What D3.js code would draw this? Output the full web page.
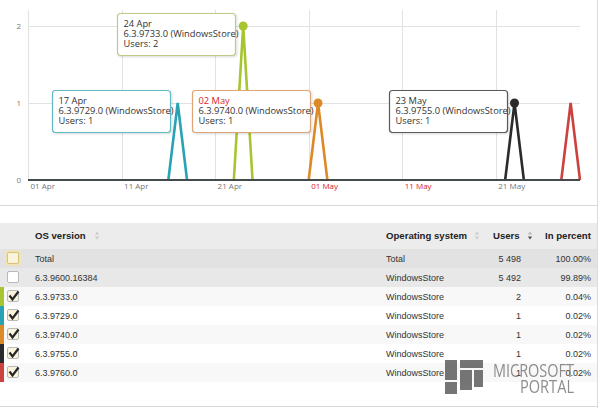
<!DOCTYPE html>
<html><head><meta charset="utf-8">
<script src="https://cdn.jsdelivr.net/npm/d3@7"></script>
<style>
html,body{margin:0;padding:0;background:#fff;}
svg{display:block;}
</style></head>
<body>
<svg id="chart" width="599" height="408"></svg>
<script>
// ---------- DATA ----------
const seriesNames  = ["6.3.9733.0","6.3.9729.0","6.3.9740.0","6.3.9755.0","6.3.9760.0"];
const seriesColors = ["#a6c530","#2ba2b4","#dc8a28","#2b2b2b","#cb423f"];
const seriesPoints = [
  [["2014-04-23",0],["2014-04-24",2],["2014-04-25",0]],
  [["2014-04-16",0],["2014-04-17",1],["2014-04-18",0]],
  [["2014-05-01",0],["2014-05-02",1],["2014-05-03",0]],
  [["2014-05-22",0],["2014-05-23",1],["2014-05-24",0]],
  [["2014-05-28",0],["2014-05-29",1],["2014-05-30",0]]
];
const markerSeries = [0,2,3];
const tooltipSeries = [1,0,2,3];
const tooltipDates  = ["17 Apr","24 Apr","02 May","23 May"];
const tooltipUsers  = [1,2,1,1];
const tooltipBorders = ["#62b9c8","#bccb86","#dda57a","#5a5a5a"];
const holidayLabels = ["02 May","01 May","11 May"];

const xDomain = ["2014-04-01","2014-05-30"];
const xTickDates  = ["2014-04-01","2014-04-11","2014-04-21","2014-05-01","2014-05-11","2014-05-21"];
const xTickLabels = ["01 Apr","11 Apr","21 Apr","01 May","11 May","21 May"];
const yTicks = [0,1,2];

const tableHeaders = ["OS version","Operating system","Users","In percent"];
const tableOS      = ["Total","6.3.9600.16384","6.3.9733.0","6.3.9729.0","6.3.9740.0","6.3.9755.0","6.3.9760.0"];
const tableSystem  = ["Total","WindowsStore","WindowsStore","WindowsStore","WindowsStore","WindowsStore","WindowsStore"];
const tableUsers   = ["5 498","5 492","2","1","1","1","1"];
const tablePercent = ["100.00%","99.89%","0.04%","0.02%","0.02%","0.02%","0.02%"];
const tableColors  = [null,null,"#a6c530","#2ba2b4","#dc8a28","#2b2b2b","#cb423f"];
const tableChecked = [false,false,true,true,true,true,true];

// ---------- SETUP ----------
const svg = d3.select("#chart");
const parse = d3.timeParse("%Y-%m-%d");
const FONT = "'Open Sans', 'Noto Sans', sans-serif";
const TFONT = "'Liberation Sans', Arial, sans-serif";

const x = d3.scaleTime().domain(xDomain.map(parse)).range([28, 580]);
const y = d3.scaleLinear().domain([0, 2]).range([180, 26]);

// frame lines
svg.append("line").attr("x1",597.5).attr("x2",597.5).attr("y1",0).attr("y2",408).attr("stroke","#dcdcdc");
svg.append("line").attr("x1",0).attr("x2",597).attr("y1",205.5).attr("y2",205.5).attr("stroke","#d8d8d8");
svg.append("line").attr("x1",0).attr("x2",597).attr("y1",406.5).attr("y2",406.5).attr("stroke","#d8d8d8");

// grid
const g = svg.append("g");
g.selectAll(".vg").data(xTickDates).join("line")
  .attr("x1",d=>Math.round(x(parse(d)))+0.5).attr("x2",d=>Math.round(x(parse(d)))+0.5)
  .attr("y1",10).attr("y2",180).attr("stroke","#e2e2e2");
g.selectAll(".hg").data(yTicks.filter(d=>d>0)).join("line")
  .attr("x1",28).attr("x2",580).attr("y1",d=>Math.round(y(d))+0.5).attr("y2",d=>Math.round(y(d))+0.5)
  .attr("stroke","#e2e2e2");

// y labels
g.selectAll(".yl").data(yTicks).join("text")
  .attr("x",21).attr("y",d=>y(d)+3).attr("text-anchor","end")
  .attr("font-family",FONT).attr("font-size",8).attr("fill","#777").text(d=>d);

// x axis
const xAxis = d3.axisBottom(x).tickValues(xTickDates.map(parse))
  .tickFormat((d,i)=>xTickLabels[i]).tickSize(0);
const xa = svg.append("g").attr("transform","translate(0,180)").call(xAxis);
xa.select(".domain").remove();
xa.selectAll("text").attr("text-anchor","start").attr("dx",2).attr("dy",0).attr("y",9)
  .attr("font-family",FONT).attr("font-size",8)
  .attr("fill",(d,i)=>holidayLabels.includes(xTickLabels[i])?"#d8262c":"#777");

// series
const line = d3.line().x(d=>x(parse(d[0]))).y(d=>y(d[1]));
svg.selectAll(".series").data(seriesPoints).join("path")
  .attr("d",line).attr("fill","none")
  .attr("stroke",(d,i)=>seriesColors[i]).attr("stroke-width",2.6).attr("stroke-linejoin","miter");

// baseline
svg.append("line").attr("x1",28).attr("x2",580).attr("y1",y(0)).attr("y2",y(0))
  .attr("stroke","#454a4c").attr("stroke-width",2);

// markers
svg.selectAll(".mk").data(markerSeries).join("circle")
  .attr("cx",i=>x(parse(seriesPoints[i][1][0]))).attr("cy",i=>y(seriesPoints[i][1][1]))
  .attr("r",4.5).attr("fill",i=>seriesColors[i]);

// tooltips
const defs = svg.append("defs");
const f = defs.append("filter").attr("id","sh").attr("x","-10%").attr("y","-10%").attr("width","130%").attr("height","140%");
f.append("feDropShadow").attr("dx",1).attr("dy",1).attr("stdDeviation",1).attr("flood-color","#000").attr("flood-opacity",0.15);

tooltipSeries.forEach((si,k)=>{
  const p = seriesPoints[si][1];
  const px = x(parse(p[0])), py = y(p[1]);
  const bw = 118, bh = 42;
  const bx = Math.round(px - 8 - bw) + 0.5, by = Math.round(py - 13) + 0.5;
  const tg = svg.append("g");
  tg.append("rect").attr("x",bx).attr("y",by).attr("width",bw).attr("height",bh)
    .attr("rx",3).attr("fill","#fff").attr("stroke",tooltipBorders[k]).attr("stroke-width",1.2)
    .attr("filter","url(#sh)");
  const lines = [tooltipDates[k], seriesNames[si]+" (WindowsStore)", "Users: "+tooltipUsers[k]];
  tg.selectAll("text").data(lines).join("text")
    .attr("x",bx+6).attr("y",(d,j)=>by+13+j*10.3)
    .attr("font-family",FONT).attr("font-size",9.3)
    .attr("fill",(d,j)=>j===0&&holidayLabels.includes(d)?"#d8262c":"#333")
    .text(d=>d);
});

// ---------- TABLE ----------
const tb = svg.append("g");
const headerTop = 223, rowTop = 249, rowH = 19;
tb.append("rect").attr("x",0).attr("y",headerTop).attr("width",597).attr("height",rowTop-headerTop).attr("fill","#ececec");
const rowFills = ["#e2e2e2","#e8e8e8","#f8f8f8","#ffffff","#f8f8f8","#ffffff","#f8f8f8"];
tb.selectAll(".rowbg").data(tableOS).join("rect")
  .attr("x",0).attr("y",(d,i)=>rowTop+i*rowH).attr("width",597).attr("height",rowH)
  .attr("fill",(d,i)=>rowFills[i]);

// header texts
const headerX = [35,386,493,545];
tb.selectAll(".hd").data(tableHeaders).join("text")
  .attr("x",(d,i)=>headerX[i]).attr("y",239)
  .attr("font-family",TFONT).attr("font-size",9.6).attr("font-weight","bold").attr("fill","#222")
  .text(d=>d);
// sort icons
const sortX = [97,477,530];
const sortDark = [false,false,true];
sortX.forEach((sx,i)=>{
  tb.append("path").attr("d",`M${sx-2.2},${234.5}L${sx},${231.5}L${sx+2.2},${234.5}Z`).attr("fill",sortDark[i]?"#bbb":"#ccc");
  tb.append("path").attr("d",`M${sx-2.2},${236.5}L${sx},${239.5}L${sx+2.2},${236.5}Z`).attr("fill",sortDark[i]?"#555":"#ccc");
});

// rows
tb.selectAll(".os").data(tableOS).join("text")
  .attr("x",35).attr("y",(d,i)=>rowTop+i*rowH+12.5)
  .attr("font-family",TFONT).attr("font-size",9).attr("fill","#333").text(d=>d);
tb.selectAll(".sys").data(tableSystem).join("text")
  .attr("x",386).attr("y",(d,i)=>rowTop+i*rowH+12.5)
  .attr("font-family",TFONT).attr("font-size",9).attr("fill","#333").text(d=>d);
tb.selectAll(".us").data(tableUsers).join("text")
  .attr("x",521).attr("y",(d,i)=>rowTop+i*rowH+12.5).attr("text-anchor","end")
  .attr("font-family",TFONT).attr("font-size",9).attr("fill","#333").text(d=>d);
tb.selectAll(".pc").data(tablePercent).join("text")
  .attr("x",591).attr("y",(d,i)=>rowTop+i*rowH+12.5).attr("text-anchor","end")
  .attr("font-family",TFONT).attr("font-size",9).attr("fill","#333").text(d=>d);

// colour strips
tb.selectAll(".strip").data(tableColors).join("rect")
  .attr("x",0).attr("y",(d,i)=>rowTop+i*rowH).attr("width",4).attr("height",rowH)
  .attr("fill",d=>d||"none");

// checkboxes
tableOS.forEach((d,i)=>{
  const cx = 7.5, cy = rowTop+i*rowH+3.5;
  if(i===0){
    tb.append("rect").attr("x",cx-2).attr("y",cy-2).attr("width",15).attr("height",15).attr("rx",3)
      .attr("fill","#f3e3a8");
  }
  tb.append("rect").attr("x",cx).attr("y",cy).attr("width",11).attr("height",11).attr("rx",1.5)
    .attr("fill",tableChecked[i]||i===0?"#fbf4dc":"#fff")
    .attr("stroke",i===0?"#d6c27a":"#b9b9b9");
  if(tableChecked[i]){
    tb.append("path").attr("d",`M${cx+2},${cy+5}L${cx+5},${cy+9}L${cx+11},${cy+1}`)
      .attr("fill","none").attr("stroke","#262626").attr("stroke-width",2.2);
  }
});

// watermark
const wm = svg.append("g").attr("opacity",0.85);
const logoRects = [[445,360,12,20],[445,382,12,12],[460,360,23,8],[460,370,12,20],[474,370,9,17]];
wm.selectAll(".lg").data(logoRects).join("rect")
  .attr("x",d=>d[0]).attr("y",d=>d[1]).attr("width",d=>d[2]).attr("height",d=>d[3]).attr("fill","#5e5e5e");
wm.append("text").attr("x",493).attr("y",377).attr("font-family",FONT).attr("font-size",18)
  .attr("textLength",81).attr("lengthAdjust","spacingAndGlyphs").attr("fill","#7a7a7a").text("MICROSOFT");
wm.append("text").attr("x",520).attr("y",393).attr("font-family",FONT).attr("font-size",18)
  .attr("textLength",54).attr("lengthAdjust","spacingAndGlyphs").attr("fill","#7a7a7a").text("PORTAL");
</script>
</body></html>
